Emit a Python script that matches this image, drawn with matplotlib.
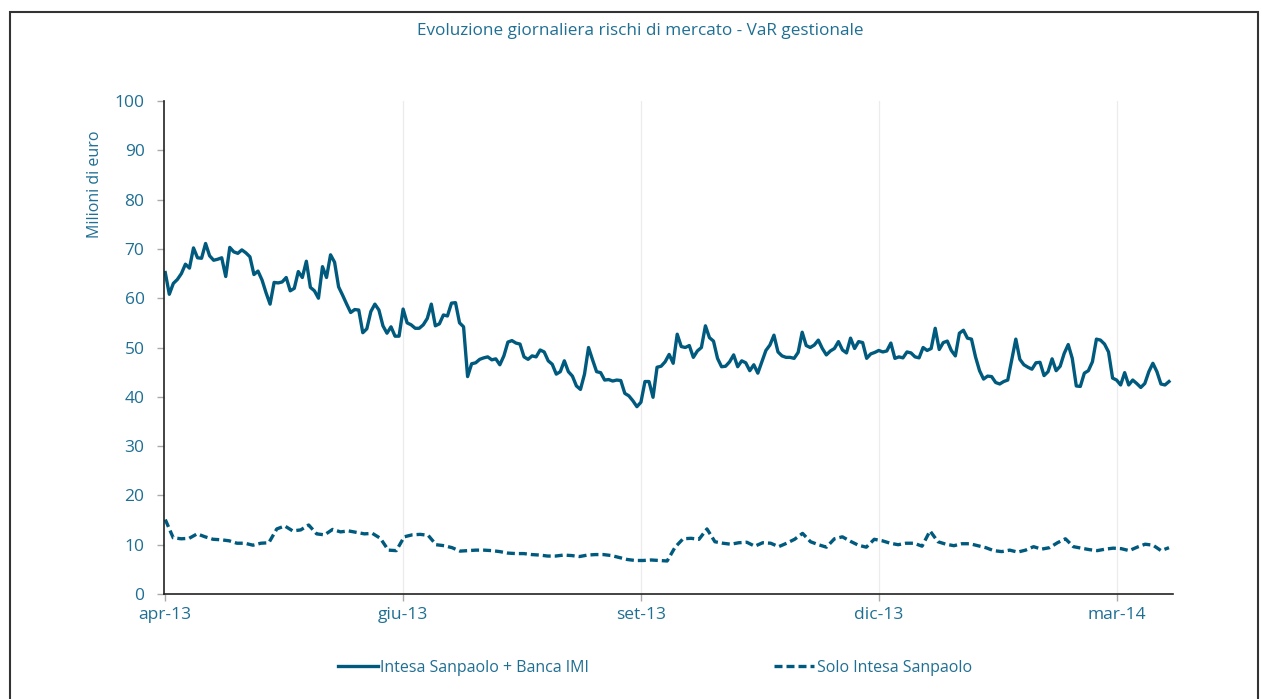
import numpy as np
import matplotlib
matplotlib.use("Agg")
import matplotlib.pyplot as plt
from matplotlib.patches import Rectangle

plt.rcParams["font.family"] = ["Open Sans", "DejaVu Sans"]

TITLE = "Evoluzione giornaliera rischi di mercato - VaR gestionale"
Y_LABEL = "Milioni di euro"
X_TICK_LABELS = ["apr-13", "giu-13", "set-13", "dic-13", "mar-14"]
SERIES_NAMES = ["Intesa Sanpaolo + Banca IMI", "Solo Intesa Sanpaolo"]

# VaR giornaliero, gruppo (milioni di euro)
var_gruppo = [
    65.2, 60.8, 63.0, 63.8, 65.0, 66.9, 66.1, 70.2, 68.2, 68.1,
    71.1, 68.6, 67.7, 67.9, 68.2, 64.4, 70.3, 69.4, 69.1, 69.8,
    69.2, 68.4, 64.8, 65.5, 63.7, 61.1, 58.8, 63.2, 63.1, 63.3,
    64.2, 61.5, 62.0, 65.4, 64.2, 67.5, 62.2, 61.5, 60.0, 66.4,
    64.2, 68.8, 67.3, 62.3, 60.6, 58.8, 57.1, 57.7, 57.6, 53.0,
    53.8, 57.3, 58.8, 57.6, 54.4, 52.9, 54.2, 52.3, 52.3, 57.8,
    55.0, 54.6, 53.9,
    53.9, 54.6, 55.9, 58.8, 54.4, 54.8, 56.6, 56.4, 59.0, 59.1,
    55.0, 54.2, 44.1, 46.7, 46.9, 47.6, 47.9, 48.1, 47.5, 47.7,
    46.5, 48.3, 51.1, 51.4, 50.9, 50.7, 48.1, 47.6, 48.3, 48.1,
    49.5, 49.1, 47.3, 46.6, 44.6, 45.1, 47.3, 45.1, 44.2, 42.2,
    41.5, 44.6, 50.0, 47.5, 45.1, 44.9, 43.4, 43.5, 43.2, 43.4,
    43.3, 40.7, 40.2, 39.2, 38.0, 38.9, 43.1, 43.1, 39.9, 46.0,
    46.2, 47.1,
    48.6, 46.8, 52.7, 50.2, 50.0, 50.4, 48.0, 49.3, 50.0, 54.4,
    52.0, 51.3, 47.8, 46.1, 46.2, 47.1, 48.5, 46.1, 47.3, 46.9,
    45.3, 46.5, 44.8, 47.1, 49.4, 50.5, 52.5, 49.1, 48.3, 48.0,
    48.0, 47.8, 49.0, 53.1, 50.4, 50.0, 50.5, 51.5, 49.8, 48.5,
    49.3, 49.8, 51.2, 49.5, 48.9, 51.9, 49.8, 51.2, 51.0, 47.8,
    48.7, 49.0, 49.4, 49.1, 49.3, 50.9, 47.8, 48.1, 47.9, 49.1,
    48.9, 48.1,
    47.9, 50.0, 49.4, 49.8, 53.9, 49.6, 51.0, 51.3, 49.4, 48.3,
    52.9, 53.5, 51.9, 51.7, 48.1, 45.3, 43.6, 44.2, 44.1, 42.9,
    42.6, 43.1, 43.4, 47.6, 51.7, 47.6, 46.5, 46.0, 45.6, 46.9,
    47.0, 44.3, 45.1, 47.7, 45.3, 46.2, 48.8, 50.6, 47.8, 42.2,
    42.1, 44.8, 45.3, 47.1, 51.7, 51.5, 50.7, 49.1, 43.8, 43.4,
    42.4, 44.9, 42.4, 43.4, 42.7, 41.9, 42.7, 45.1, 46.8, 45.1,
    42.6, 42.4, 43.1,
]

# VaR solo Intesa Sanpaolo (letto ogni due giorni)
var_isp = [
    15.1, 11.4, 11.2, 11.3, 12.2, 11.6, 11.1, 11.0, 10.8, 10.3,
    10.3, 9.9, 10.3, 10.4, 13.2, 13.8, 12.8, 13.0, 14.0, 12.2,
    12.0, 13.1, 12.6, 12.8, 12.5, 12.2, 12.3, 11.3, 8.9, 8.8,
    11.6, 12.0, 12.1, 11.9, 10.0, 9.8, 9.4, 8.7, 8.8, 8.9,
    8.9, 8.8, 8.6, 8.3, 8.2, 8.2, 8.0, 7.9, 7.7, 7.7,
    7.9, 7.8, 7.6, 7.9, 8.0, 8.0, 7.8, 7.4, 7.0, 6.8,
    6.8, 6.9, 6.8, 6.7, 9.5, 11.2, 11.3, 11.1, 13.2, 10.6,
    10.3, 10.1, 10.4, 10.5, 9.7, 10.4, 10.3, 9.6, 10.3, 11.1,
    12.3, 10.6, 10.0, 9.5, 11.2, 11.6, 10.7, 9.9, 9.5, 11.1,
    10.8, 10.3, 10.0, 10.3, 10.3, 9.7, 12.8, 10.6, 10.1, 9.8,
    10.2, 10.2, 9.8, 9.4, 8.8, 8.6, 8.9, 8.5, 8.9, 9.6,
    9.1, 9.4, 10.4, 11.2, 9.6, 9.3, 9.0, 8.8, 9.1, 9.3,
    9.2, 8.8, 9.5, 10.1, 9.9, 8.8, 9.4,
]

LINE_COLOR = "#005a7e"
TEXT_COLOR = "#1f6f93"

x_gruppo = np.arange(len(var_gruppo))
x_isp = np.linspace(0, len(var_gruppo) - 1, len(var_isp))
tick_pos = np.arange(len(X_TICK_LABELS)) * 59

fig = plt.figure(figsize=(12.62, 6.99), dpi=100)
ax = fig.add_axes([0.130, 0.1502, 0.7995, 0.7053])

ax.plot(x_gruppo, var_gruppo, color=LINE_COLOR, lw=2.4,
        solid_joinstyle="round", label=SERIES_NAMES[0])
ax.plot(x_isp, var_isp, color=LINE_COLOR, lw=2.4,
        dashes=(2.4, 1.2), label=SERIES_NAMES[1])

ax.set_ylim(0, 100)
ax.set_xlim(-0.3, len(var_gruppo))
ax.set_yticks(np.arange(0, 101, 10))
ax.set_xticks(tick_pos)
ax.set_xticklabels(X_TICK_LABELS)

for t in tick_pos[1:]:
    ax.axvline(t, color="#ececec", lw=0.9, zorder=0)

for side in ["top", "right"]:
    ax.spines[side].set_visible(False)
for side in ["left", "bottom"]:
    ax.spines[side].set_color("#222222")
    ax.spines[side].set_linewidth(1.2)

ax.tick_params(axis="both", colors="#aaaaaa", length=5, width=1,
               labelcolor=TEXT_COLOR, labelsize=12.5)
ax.tick_params(axis="y", pad=9)
ax.tick_params(axis="x", pad=4)

fig.text(640 / 1262, 1 - 31 / 699, TITLE, ha="center", va="center",
         color=TEXT_COLOR, fontsize=12.3)
fig.text(95 / 1262, 1 - 184 / 699, Y_LABEL, ha="center", va="center",
         rotation=90, color=TEXT_COLOR, fontsize=11.5)

leg = fig.legend(loc="center", bbox_to_anchor=(0.5190, 1 - 668 / 699),
                 ncol=2, frameon=False, fontsize=11.5,
                 handlelength=2.5, handletextpad=0.15, columnspacing=11.6)
for txt in leg.get_texts():
    txt.set_color(TEXT_COLOR)

fig.patches.append(Rectangle((10 / 1262, -0.05), 1248 / 1262, 1.05 - 12 / 699,
                             transform=fig.transFigure, fill=False,
                             edgecolor="#333333", lw=1.5))

fig.savefig("out.png", dpi=100)
